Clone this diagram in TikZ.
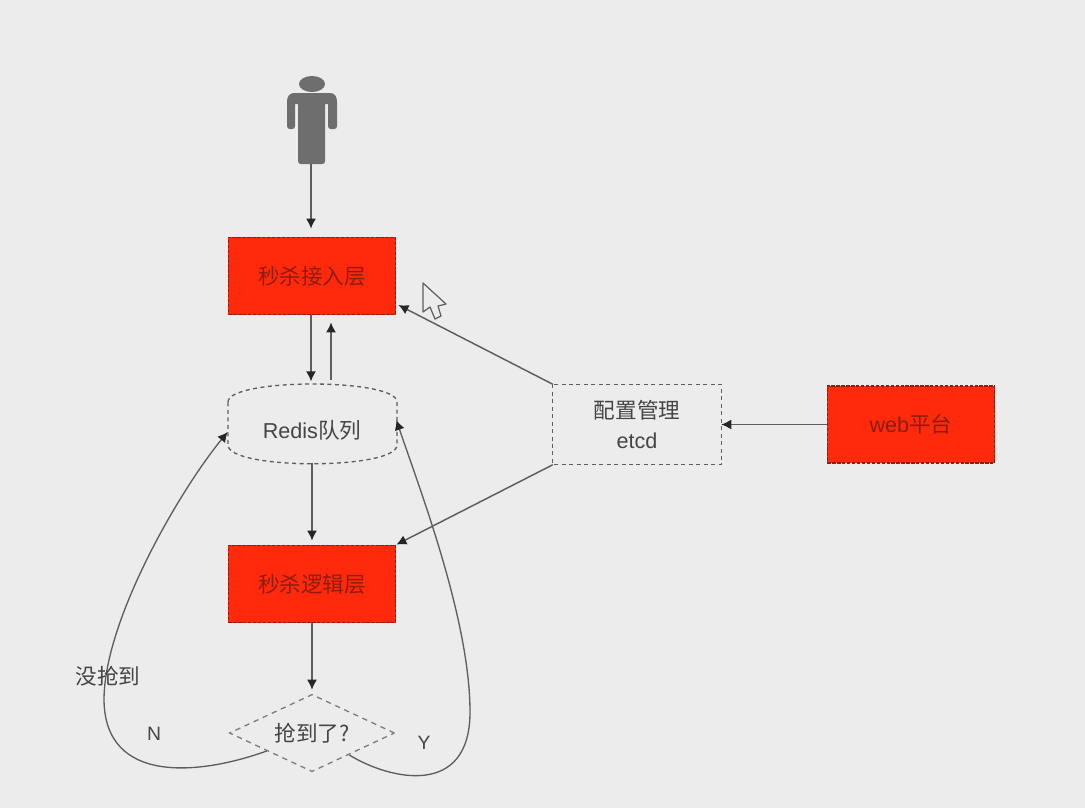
\documentclass[tikz,border=0pt]{standalone}
\usepackage{fontspec}
\setmainfont{Liberation Sans}
\newfontfamily\cjk{Noto Sans CJK SC}
\usetikzlibrary{arrows.meta,shapes.geometric,calc}
\definecolor{bgc}{HTML}{ECECEC}
\definecolor{redc}{HTML}{FF2A0C}
\definecolor{redt}{HTML}{8E1C10}
\definecolor{grayt}{HTML}{454545}
\definecolor{lin}{HTML}{5E5E5E}
\definecolor{pers}{HTML}{6E6E6E}
\tikzset{
  x=0.75pt,y=-0.75pt,
  tip/.style={-{Latex[length=7.5pt,width=7.5pt,color=black!85]}},
  redbox/.style={draw=redt,fill=redc,dash pattern=on 2.5pt off 1.2pt,line width=1.1pt,minimum width=125.5pt,minimum height=58pt,inner sep=0pt,text=redt,font=\cjk\fontsize{16.2}{19}\selectfont},
  grayline/.style={draw=lin,dash pattern=on 3pt off 2.6pt,line width=1pt},
  graybox/.style={minimum width=126pt,minimum height=60pt,inner sep=0pt,text=grayt,align=center,font=\cjk\fontsize{16.2}{22.5}\selectfont},
  ghost/.style={inner sep=0pt,outer sep=0pt},
  conn/.style={draw=lin,line width=1.1pt,tip},
  curve/.style={draw=lin,line width=1pt,tip},
  lab/.style={text=grayt,font=\cjk\fontsize{16.2}{19}\selectfont,inner sep=0pt},
  latin/.style={text=grayt,font=\fontspec{Liberation Sans}\fontsize{14.5}{17}\selectfont,inner sep=0pt},
}
\begin{document}
\begin{tikzpicture}
\useasboundingbox (0,0) rectangle (1085,808);
\fill[bgc] (0,0) rectangle (1085,808);
% person
\node[ghost,minimum width=37.5pt,minimum height=67pt] (person) at (311,120) {};
\fill[pers] (312,84) ellipse (13 and 8);
\fill[pers] (294,93) -- (330,93) .. controls (335,93) and (337,97) .. (337,102) -- (337,126) .. controls (337,128) and (336,129) .. (334,129) -- (331,129) .. controls (329,129) and (328,128) .. (328,126) -- (328,104) -- (325,104) -- (325,161) .. controls (325,163) and (324,164) .. (322,164) -- (301,164) .. controls (299,164) and (298,163) .. (298,161) -- (298,104) -- (295,104) -- (295,126) .. controls (295,128) and (294,129) .. (292,129) -- (290,129) .. controls (288,129) and (287,128) .. (287,126) -- (287,102) .. controls (287,97) and (289,93) .. (294,93) -- cycle;
% boxes
\node[redbox] (access) at (312,276) {秒杀接入层};
\node[redbox] (logic) at (312,584) {秒杀逻辑层};
\node[redbox] (web) at (911,424.5) {{\fontspec{Liberation Sans}web}平台};
\node[graybox] (cfg) at (637,424.5) {配置管理\\{\fontspec{Liberation Sans}etcd}};
\draw[grayline] (cfg.north west) rectangle (cfg.south east);
% redis
\node[ghost,minimum width=126.5pt,minimum height=58pt,text=grayt,font=\cjk\fontsize{16.2}{19}\selectfont] (redis) at (312,424) {};
\node[ghost,text=grayt,font=\cjk\fontsize{16.2}{19}\selectfont] (redislab) at (312,430) {{\fontspec{Liberation Sans}Redis}队列};
\draw[grayline] (228,402) .. controls (228,378) and (397,378) .. (397,402) -- (397,445) .. controls (397,470) and (228,470) .. (228,445) -- cycle;
% diamond
\node[diamond,aspect=2.1,draw=lin!80,dash pattern=on 4pt off 3.5pt,line width=1pt,minimum width=124pt,minimum height=58pt,inner sep=0pt,text=grayt,font=\cjk\fontsize{16.2}{19}\selectfont] (dec) at (312,733) {抢到了?};
% connectors
\draw[conn,shorten >=6pt] ($(access.north)+(-1,-73)$) -- ($(access.north)+(-1,0)$);
\draw[conn] ($(access.south)+(-1,0)$) -- ($(redis.north)+(-1,-4)$);
\draw[conn] ($(redis.north)+(19,-5)$) -- ($(access.south)+(19,7)$);
\draw[conn,shorten >=3pt] (redis.south) -- (logic.north);
\draw[conn,shorten >=3pt] (logic.south) -- (dec.north);
\draw[conn] (web.west) -- (cfg.east);
\draw[conn] (cfg.north west) -- ($(access.east)+(2,29)$);
\draw[conn] (cfg.south west) -- (logic.north east);
\draw[curve] ($(dec.west)+(38,18)$) .. controls (200,775) and (105,785) .. (104,700) .. controls (104,620) and (180,490) .. ($(redis.west)+(0,8)$);
\draw[curve] ($(dec.east)+(-46,22)$) .. controls (390,780) and (470,798) .. (470,712) .. controls (470,620) and (420,490) .. ($(redis.east)+(0,-4)$);
% labels
\node[lab] (l1) at (108,676) {没抢到};
\node[latin] (ln) at (154,734) {N};
\node[latin] (ly) at (424,743) {Y};
% cursor
\draw[lin,fill=bgc,line width=0.9pt,line join=round] (423,283) -- (423,312) -- (430,307) -- (435,319) -- (441,316) -- (438,306) -- (446,304) -- cycle;
\end{tikzpicture}
\end{document}
